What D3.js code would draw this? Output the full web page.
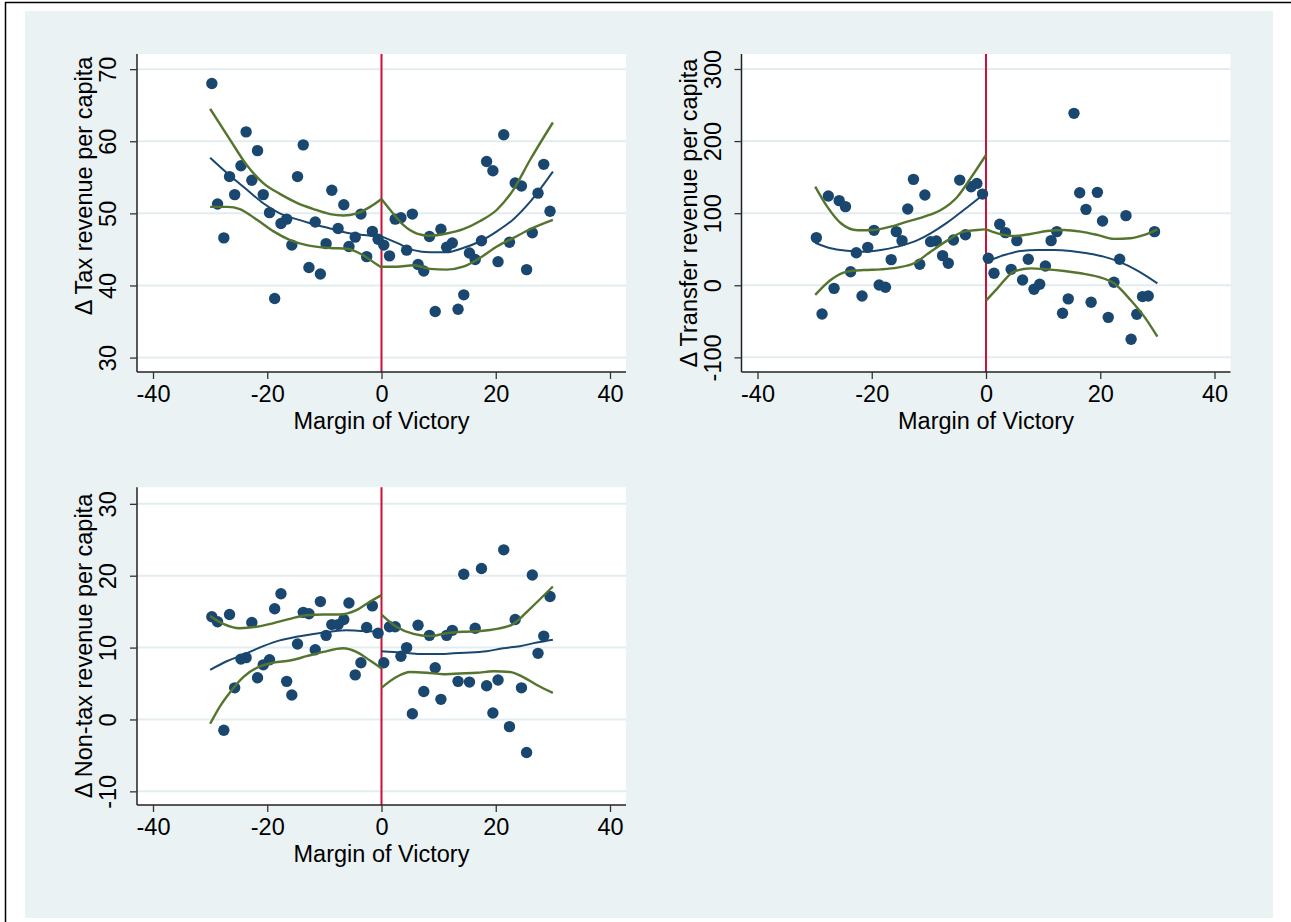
<!DOCTYPE html>
<html>
<head>
<meta charset="utf-8">
<script src="https://cdn.jsdelivr.net/npm/d3@7"></script>
<style>
	body { margin: 0; background: #fff; }
	text { font-family: "Liberation Sans", Arial, sans-serif; }
</style>
</head>
<body>
<svg id="chart" width="1291" height="922"></svg>
<script>
// bin centres of the margin of victory (same for every panel)
const marginLeft = [-29.7, -28.7, -27.6, -26.6, -25.7, -24.6, -23.7, -22.7, -21.7, -20.7, -19.6, -18.7, -17.6, -16.6, -15.7,
	-14.7, -13.7, -12.7, -11.6, -10.7, -9.7, -8.7, -7.6, -6.6, -5.7, -4.6, -3.6, -2.6, -1.6, -0.6];
const marginRight = [0.4, 1.4, 2.4, 3.4, 4.4, 5.4, 6.4, 7.4, 8.4, 9.4, 10.4, 11.4, 12.4, 13.4, 14.4,
	15.4, 16.4, 17.5, 18.4, 19.5, 20.4, 21.4, 22.4, 23.4, 24.5, 25.4, 26.4, 27.4, 28.4, 29.5];

// bin means
const taxLeft = [68.0, 51.3, 46.6, 55.1, 52.6, 56.6, 61.3, 54.6, 58.7, 52.6, 50.1, 38.2, 48.6, 49.2, 45.6,
	55.1, 59.5, 42.5, 48.8, 41.6, 45.8, 53.2, 47.9, 51.2, 45.4, 46.7, 49.9, 44.0, 47.5, 46.4];
const taxRight = [45.6, 44.1, 49.2, 49.4, 44.9, 49.9, 42.9, 42.0, 46.8, 36.4, 47.8, 45.3, 45.9, 36.7, 38.7,
	44.5, 43.6, 46.2, 57.2, 55.9, 43.3, 60.9, 46.0, 54.2, 53.8, 42.2, 47.3, 52.8, 56.8, 50.3];

const transferLeft = [66.1, -39.9, 123.8, -4.3, 117.4, 109.1, 18.8, 45.2, -14.9, 52.6, 76.2, 0.4, -2.8, 35.6, 74.4,
	61.9, 105.8, 146.9, 29.1, 125.2, 60.5, 61.5, 41.1, 30.5, 62.9, 145.9, 70.0, 136.7, 141.3, 126.5];
const transferRight = [37.4, 16.6, 84.6, 73.0, 22.1, 61.9, 7.4, 36.0, -5.5, 1.4, 26.8, 61.9, 74.4, -38.8, -18.9,
	238.5, 128.4, 105.3, -23.6, 128.9, 89.1, -44.5, 4.1, 36.0, 96.6, -74.9, -40.2, -15.7, -14.8, 74.4];

const nonTaxLeft = [14.3, 13.6, -1.5, 14.6, 4.4, 8.4, 8.6, 13.5, 5.8, 7.6, 8.3, 15.4, 17.5, 5.3, 3.4,
	10.5, 14.9, 14.7, 9.7, 16.4, 11.7, 13.2, 13.2, 13.9, 16.2, 6.2, 7.9, 12.8, 15.8, 12.0];
const nonTaxRight = [7.9, 12.9, 12.9, 8.8, 10.0, 0.8, 13.1, 3.9, 11.7, 7.2, 2.8, 11.7, 12.4, 5.3, 20.2,
	5.2, 12.7, 21.0, 4.7, 0.9, 5.5, 23.6, -1.0, 13.9, 4.4, -4.6, 20.1, 9.2, 11.6, 17.1];

// fitted lines and confidence bands, [margin, value]
const taxFitL = [[-30, 57.7], [-26.5, 55.2], [-23.6, 53.3], [-20.7, 51.4], [-17.8, 50.0], [-14.9, 49.2], [-11.9, 48.5], [-9.0, 47.9], [-6.1, 47.3], [-3.2, 47.0], [0, 46.8]];
const taxHiL = [[-30, 64.5], [-26.5, 60.2], [-23.6, 56.7], [-20.7, 54.2], [-17.8, 52.7], [-14.9, 51.5], [-11.9, 50.6], [-9.0, 49.9], [-6.7, 49.7], [-4.3, 50.0], [-2.0, 50.9], [0, 52.0]];
const taxLoL = [[-30, 50.9], [-26.9, 50.9], [-24.8, 50.6], [-21.8, 49.1], [-18.9, 47.5], [-16.0, 46.3], [-13.1, 45.6], [-9.0, 45.2], [-6.1, 45.1], [-3.2, 44.2], [-0.8, 42.9], [0, 42.5]];
const taxFitR = [[0, 46.8], [2.7, 45.9], [5.6, 44.9], [8.5, 44.6], [11.4, 44.6], [14.3, 45.2], [17.2, 46.1], [20.2, 47.5], [23.1, 49.2], [26.0, 51.6], [30, 55.8]];
const taxHiR = [[0, 52.0], [1.5, 50.5], [3.8, 48.4], [6.2, 47.2], [8.5, 46.9], [11.4, 47.2], [14.3, 47.8], [17.2, 48.9], [20.2, 50.5], [23.1, 53.3], [26.0, 57.4], [30, 62.6]];
const taxLoR = [[0, 42.6], [2.7, 42.6], [5.6, 42.8], [8.5, 42.3], [11.4, 42.2], [14.3, 42.6], [17.2, 43.8], [20.2, 45.4], [23.1, 46.6], [26.0, 47.8], [30, 49.1]];

const trFitL = [[-29.9, 59.0], [-27.2, 51.3], [-24.3, 48.0], [-21.4, 46.6], [-18.4, 48.9], [-15.5, 53.6], [-12.6, 60.5], [-9.7, 72.1], [-6.8, 86.9], [-3.9, 104.4], [-1.5, 119.2], [0, 129.8]];
const trHiL = [[-29.9, 136.9], [-27.8, 109.1], [-25.4, 86.0], [-22.5, 76.3], [-19.6, 76.7], [-16.7, 81.3], [-13.8, 88.3], [-10.8, 95.2], [-7.9, 104.4], [-5.0, 122.9], [-2.7, 148.4], [0, 180.7]];
const trLoL = [[-29.9, -13.4], [-27.2, 7.4], [-24.3, 19.0], [-21.4, 21.2], [-18.4, 22.1], [-15.5, 24.5], [-12.6, 30.5], [-9.7, 46.6], [-6.8, 61.9], [-3.9, 74.4], [-1.5, 76.7], [0, 77.6]];
const trFitR = [[0, 32.5], [3.2, 42.0], [6.1, 47.6], [9.0, 49.0], [11.9, 49.0], [14.8, 47.6], [17.7, 44.3], [20.6, 39.7], [23.6, 31.8], [26.5, 20.3], [30, 2.7]];
const trHiR = [[0, 77.6], [2.0, 72.1], [4.9, 68.4], [7.8, 71.1], [10.7, 75.3], [13.7, 76.7], [16.6, 74.4], [19.5, 69.8], [22.4, 64.3], [25.3, 65.2], [27.7, 69.8], [30, 77.6]];
const trLoR = [[0, -21.3], [2.0, -4.2], [4.9, 19.0], [7.8, 23.5], [10.7, 22.1], [13.7, 19.8], [16.6, 16.6], [19.5, 12.0], [22.4, 2.7], [25.3, -20.4], [27.7, -43.5], [30, -71.2]];

const ntFitL = [[-30, 6.9], [-27.1, 8.1], [-24.2, 9.0], [-20.7, 10.2], [-17.8, 11.0], [-14.9, 11.5], [-11.9, 11.9], [-9.0, 12.2], [-6.1, 12.4], [-3.2, 12.3], [0, 12.2]];
const ntHiL = [[-30, 14.4], [-27.7, 13.3], [-24.8, 12.7], [-21.9, 12.9], [-18.9, 13.4], [-16.0, 14.0], [-13.1, 14.5], [-10.2, 14.6], [-7.3, 14.6], [-4.4, 15.2], [-2.0, 16.4], [0, 17.3]];
const ntLoL = [[-30, -0.6], [-28.3, 1.8], [-26.5, 3.8], [-24.2, 5.9], [-21.8, 7.2], [-18.9, 7.9], [-16.0, 8.2], [-13.1, 8.8], [-10.2, 9.4], [-6.7, 9.9], [-4.4, 9.4], [-2.0, 8.2], [0, 7.1]];
const ntFitR = [[0, 9.5], [3.8, 9.3], [6.7, 9.1], [9.7, 9.1], [12.6, 9.2], [15.5, 9.3], [18.4, 9.5], [21.3, 9.9], [24.2, 10.2], [27.2, 10.7], [30, 11.1]];
const ntHiR = [[0, 14.6], [2.6, 12.9], [5.6, 11.9], [8.5, 11.6], [11.4, 12.0], [14.3, 12.2], [17.2, 12.3], [20.2, 12.6], [23.1, 13.3], [26.0, 15.4], [30, 18.5]];
const ntLoR = [[0, 4.4], [2.6, 5.9], [5.0, 6.6], [7.9, 6.5], [10.8, 6.3], [13.7, 6.4], [16.7, 6.5], [19.6, 6.7], [22.5, 6.6], [24.8, 5.9], [27.2, 4.8], [30, 3.7]];

const xTicks = [-40, -20, 0, 20, 40];
const taxTicks = [30, 40, 50, 60, 70];
const transferTicks = [-100, 0, 100, 200, 300];
const nonTaxTicks = [-10, 0, 10, 20, 30];

const navy = "#1a476f";
const olive = "#55752f";
const bg = "#eaf2f3";
const fontSize = 23.5;

const svg = d3.select("#chart");

// outer frame and graph region
svg.append("rect").attr("x", 25).attr("y", 11).attr("width", 1248).attr("height", 907).attr("fill", bg);
svg.append("line").attr("x1", 5.5).attr("x2", 5.5).attr("y1", 2).attr("y2", 922).attr("stroke", "#000").attr("stroke-width", 1.5);
svg.append("line").attr("x1", 5).attr("x2", 1291).attr("y1", 2.5).attr("y2", 2.5).attr("stroke", "#000").attr("stroke-width", 1.5);

const panels = [
	{ left: 137, top: 54, height: 318, yDomain: [28.0, 72.1], yTicks: taxTicks, title: "\u0394 Tax revenue per capita", titleY: 186,
		yLeft: taxLeft, yRight: taxRight, fits: [taxFitL, taxFitR], bands: [taxHiL, taxLoL, taxHiR, taxLoR] },
	{ left: 741.5, top: 54, height: 318, yDomain: [-120.3, 320.8], yTicks: transferTicks, title: "\u0394 Transfer revenue per capita", titleY: 213,
		yLeft: transferLeft, yRight: transferRight, fits: [trFitL, trFitR], bands: [trHiL, trLoL, trHiR, trLoR] },
	{ left: 137, top: 487.3, height: 317.7, yDomain: [-11.9, 32.3], yTicks: nonTaxTicks, title: "\u0394 Non-tax revenue per capita", titleY: 646,
		yLeft: nonTaxLeft, yRight: nonTaxRight, fits: [ntFitL, ntFitR], bands: [ntHiL, ntLoL, ntHiR, ntLoR] },
];

panels.forEach((p) => drawPanel(p));

function drawPanel(p) {
	const width = 489;
	const x = d3.scaleLinear().domain([-42.8, 42.8]).range([p.left, p.left + width]);
	const y = d3.scaleLinear().domain(p.yDomain).range([p.top + p.height, p.top]);
	const bottom = p.top + p.height;

	const g = svg.append("g");

	// plot region
	g.append("rect").attr("x", p.left).attr("y", p.top).attr("width", width).attr("height", p.height).attr("fill", "#fff");

	// grid lines
	g.selectAll(".grid")
		.data(p.yTicks)
		.enter()
		.append("line")
		.attr("x1", p.left)
		.attr("x2", p.left + width)
		.attr("y1", (d) => y(d))
		.attr("y2", (d) => y(d))
		.attr("stroke", "#e3edef")
		.attr("stroke-width", 2);

	// cutoff line
	g.append("line")
		.attr("x1", x(0)).attr("x2", x(0))
		.attr("y1", p.top).attr("y2", bottom)
		.attr("stroke", "#cc1139")
		.attr("stroke-width", 2);

	// bin means
	const pts = marginLeft.map((m, i) => [m, p.yLeft[i]]).concat(marginRight.map((m, i) => [m, p.yRight[i]]));
	g.selectAll(".dot")
		.data(pts)
		.enter()
		.append("circle")
		.attr("cx", (d) => x(d[0]))
		.attr("cy", (d) => y(d[1]))
		.attr("r", 5.7)
		.attr("fill", navy);

	const line = d3.line().x((d) => x(d[0])).y((d) => y(d[1])).curve(d3.curveMonotoneX);

	p.bands.forEach((b) => {
		g.append("path").attr("d", line(b)).attr("fill", "none").attr("stroke", olive).attr("stroke-width", 2.4);
	});
	p.fits.forEach((f) => {
		g.append("path").attr("d", line(f)).attr("fill", "none").attr("stroke", navy).attr("stroke-width", 2);
	});

	// y axis with vertical labels (plain hyphen for negatives)
	const yAxis = g.append("g")
		.attr("transform", `translate(${p.left},0)`)
		.call(d3.axisLeft(y).tickValues(p.yTicks).tickSize(7).tickFormat((d) => String(d)));
	yAxis.select(".domain").attr("d", `M0,${p.top}V${bottom}`).attr("stroke", "#222").attr("stroke-width", 1.5);
	yAxis.selectAll(".tick line").attr("stroke", "#333").attr("stroke-width", 1.3);
	yAxis.selectAll(".tick text")
		.attr("x", null)
		.attr("dy", null)
		.attr("transform", "translate(-21,0) rotate(-90)")
		.attr("text-anchor", "middle")
		.attr("font-size", fontSize)
		.attr("fill", "#000");

	// x axis
	const xAxis = g.append("g")
		.attr("transform", `translate(0,${bottom})`)
		.call(d3.axisBottom(x).tickValues(xTicks).tickSize(7).tickFormat((d) => String(d)));
	xAxis.select(".domain").attr("d", `M${p.left},0H${p.left + width}`).attr("stroke", "#222").attr("stroke-width", 1.5);
	xAxis.selectAll(".tick line").attr("stroke", "#333").attr("stroke-width", 1.3);
	xAxis.selectAll(".tick text")
		.attr("y", 29.5)
		.attr("dy", null)
		.attr("font-size", fontSize)
		.attr("fill", "#000");

	// axis titles
	g.append("text")
		.attr("transform", `translate(${p.left - 45},${p.titleY}) rotate(-90)`)
		.attr("text-anchor", "middle")
		.attr("font-size", fontSize)
		.text(p.title);
	g.append("text")
		.attr("x", x(0))
		.attr("y", bottom + 57)
		.attr("text-anchor", "middle")
		.attr("font-size", fontSize)
		.text("Margin of Victory");
}
</script>
</body>
</html>
